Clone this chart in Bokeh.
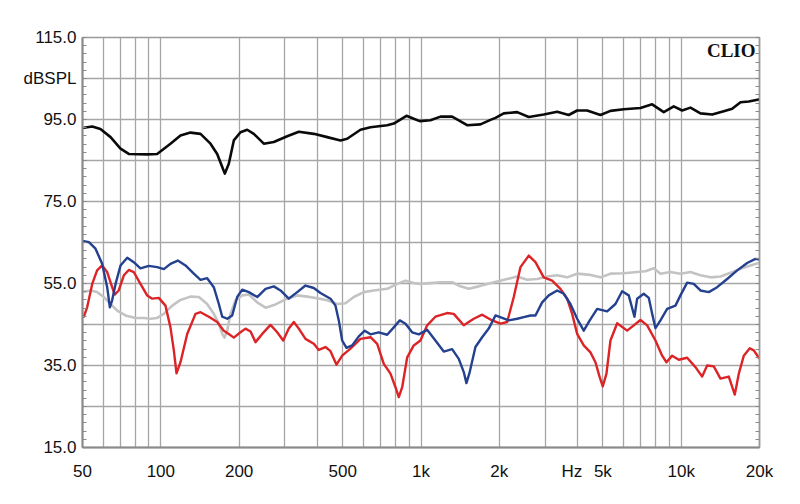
from bokeh.plotting import figure
from bokeh.models import FixedTicker, LinearAxis, Range1d, Label
from bokeh.embed import file_html
from bokeh.resources import INLINE

# ---- data (Hz, dB SPL) ----
black_f = [50.6, 54.5, 58.6, 64.1, 70, 75.3, 88.6, 96.8, 108.9, 119, 130, 142.1, 155.2, 164.7, 172.2,
           176.2, 182.5, 190.8, 202.4, 214.8, 227.7, 248.8, 271.8, 306, 339.1, 387.2, 436, 490.4, 520.3,
           585.3, 639.5, 741.4, 786, 879.5, 937.8, 988.9, 1087, 1188, 1317, 1397, 1504, 1692, 1849, 1933,
           2080, 2342, 2595, 2963, 3337, 3697, 3983, 4351, 4895, 5348, 6016, 6974, 7735, 8571, 9364,
           10087, 10856, 11860, 13155, 14580, 15705, 16905, 18188, 19872]
black_db = [93.0, 93.3, 92.7, 90.7, 87.9, 86.6, 86.5, 86.6, 89.1, 91.1, 91.8, 91.5, 89.1, 86.6, 83.4,
            81.8, 84.2, 89.9, 91.9, 92.5, 91.5, 89.1, 89.5, 90.9, 92.0, 91.5, 90.7, 89.9, 90.3,
            92.5, 93.1, 93.6, 94.0, 95.9, 95.2, 94.6, 94.8, 95.7, 95.7, 94.8, 93.6, 93.8, 94.9, 95.4,
            96.5, 96.8, 95.6, 96.2, 96.9, 96.1, 97.2, 97.2, 96.1, 97.1, 97.5, 97.8, 98.7, 96.8, 98.2,
            97.2, 97.9, 96.5, 96.2, 97.0, 97.6, 99.2, 99.4, 99.9]

blue_f = [50.6, 52.9, 56.1, 59.5, 62.2, 63.7, 65.0, 67.0, 70.0, 74.3, 78.7, 83.5, 89.9, 96.8, 102.7,
          108.9, 116.2, 124.4, 133.9, 142.1, 150.7, 159.8, 167.1, 172.2, 180.0, 188.1, 196.6, 205.5,
          217.9, 234.7, 252.6, 271.8, 288.4, 310.4, 334.4, 359.8, 387.2, 410.8, 448.9, 469.2, 483.1,
          497.8, 517.1, 543.8, 576.6, 608.0, 639.5, 688.2, 741.4, 786.0, 828.9, 871.8, 924.6, 980.2,
          1056, 1136, 1223, 1317, 1397, 1460, 1495, 1539, 1619, 1718, 1821, 1933, 2051, 2174, 2342,
          2483, 2635, 2754, 2922, 3098, 3337, 3537, 3753, 3983, 4222, 4452, 4754, 5194, 5590, 5931,
          6288, 6613, 6773, 7180, 7506, 7735, 7964, 8324, 8833, 9506, 9936, 10543, 11177, 11860,
          12765, 13752, 15024, 16416, 17935, 19299, 19872]
blue_db = [65.3, 65.1, 63.5, 59.8, 54.1, 49.2, 50.9, 54.9, 59.4, 61.3, 60.2, 58.7, 59.3, 59.0, 58.5,
           59.8, 60.6, 59.4, 57.4, 55.9, 56.3, 54.1, 50.0, 46.9, 46.4, 47.2, 51.7, 53.5,
           52.9, 51.7, 53.7, 54.3, 53.3, 51.3, 52.9, 54.5, 53.9, 52.7, 51.3, 49.6, 46.0,
           41.1, 39.3, 39.9, 42.1, 43.5, 42.6, 43.1, 42.5, 44.3, 46.0, 45.2, 43.1, 42.6,
           43.7, 41.1, 38.4, 39.0, 36.6, 33.4, 30.7, 33.4, 39.5, 41.9, 44.0, 47.2, 46.6, 46.0, 46.4,
           46.8, 47.2, 47.2, 50.4, 52.1, 53.3, 52.5, 50.0, 46.4, 43.5, 46.0, 48.8, 48.2, 50.0, 53.1,
           52.1, 46.9, 51.3, 52.5, 51.5, 47.6, 44.1, 46.0, 48.8, 49.6, 52.1, 55.2, 54.9, 53.3,
           52.9, 54.1, 56.1, 58.2, 60.0, 61.0, 60.9]

red_f = [50.6, 52.1, 54.5, 56.9, 59.5, 62.2, 65.0, 66.5, 68.9, 72.1, 75.3, 78.7, 83.5, 88.6, 92.7,
         98.2, 104.2, 108.9, 112.2, 114.9, 119.0, 126.3, 135.9, 142.1, 152.9, 164.7, 174.6, 182.5,
         190.8, 202.4, 211.6, 221.2, 231.2, 245.3, 264.0, 280.1, 295.4, 310.4, 324.5, 339.1, 359.8,
         387.2, 404.7, 429.4, 448.9, 473.4, 497.8, 535.7, 585.3, 639.5, 678.6, 719.4, 763.3, 797.9,
         821.6, 846.7, 885.0, 937.8, 995, 1056, 1136, 1260, 1336, 1460, 1595, 1718, 1849, 2020, 2144,
         2273, 2412, 2595, 2754, 2963, 3192, 3435, 3645, 3810, 3983, 4222, 4480, 4683, 4864, 4996,
         5162, 5348, 5675, 6200, 6573, 6974, 7400, 7964, 8450, 8778, 9232, 9788, 10543, 11347,
         12040, 12585, 13344, 14160, 15238, 16071, 16651, 17406, 18350, 19011, 19872]
red_db = [46.9, 49.2, 54.9, 58.2, 59.4, 57.8, 54.1, 52.3, 53.3, 57.0, 58.3, 57.8, 54.9, 52.1, 51.3,
          51.5, 49.6, 44.3, 38.7, 33.1, 35.8, 42.7, 47.6, 48.0, 46.9, 45.6, 43.5, 42.7,
          41.8, 43.1, 44.0, 43.3, 40.7, 42.7, 44.9, 43.1, 41.1, 44.0, 45.6, 44.0, 41.5,
          40.3, 38.8, 39.5, 38.5, 35.2, 37.4, 39.1, 41.5, 41.9, 40.3, 35.4, 33.0, 29.7,
          27.3, 29.7, 37.0, 39.9, 41.1, 44.8, 46.9, 47.8, 47.6, 44.8, 46.4, 47.4, 46.2, 45.2, 45.6,
          51.7, 59.0, 61.8, 60.2, 56.5, 55.7, 53.7, 51.3, 47.6, 42.7, 39.9, 38.2, 35.8, 32.1, 29.9,
          33.0, 41.1, 45.3, 43.5, 44.8, 46.1, 44.8, 41.1, 37.4, 35.8, 37.4, 36.4, 36.9, 34.6,
          32.3, 35.0, 34.8, 31.8, 32.3, 27.9, 33.0, 37.4, 39.2, 38.7, 36.9]

gray_f = [50.6, 53.7, 56.9, 60.4, 64.1, 68.0, 73.2, 79.9, 86.0, 91.3, 96.8, 102.7, 110.6, 119.0, 130.0,
          140.0, 150.7, 159.8, 167.1, 172.2, 175.7, 180.0, 185.3, 193.7, 205.5, 217.9, 234.7, 252.6,
          275.9, 306.0, 334.4, 365.3, 399.0, 436.0, 476.3, 512.6, 551.6, 602.7, 658.4, 741.4, 810.0,
          871.8, 937.8, 995, 1087, 1188, 1317, 1418, 1526, 1667, 1796, 1962, 2144, 2342, 2559, 2796,
          3054, 3337, 3645, 3983, 4480, 4895, 5348, 6016, 6773, 7289, 7845, 8324, 9095, 9936, 10856,
          11860, 12960, 14160, 15470, 16905, 18465, 19872]
gray_db = [53.0, 53.3, 52.9, 51.7, 50.0, 48.4, 47.2, 46.6, 46.6, 46.4, 46.6, 47.6, 49.6, 51.0, 51.8,
           51.7, 50.0, 47.6, 45.2, 42.7, 41.8, 43.5, 47.6, 50.9, 52.1, 52.3, 50.4, 49.1,
           49.9, 51.3, 52.1, 51.8, 51.4, 50.9, 50.0, 50.2, 51.7, 52.9, 53.3, 53.7, 54.9,
           55.7, 55.1, 54.9, 55.1, 55.3, 55.3, 54.3, 53.7, 54.3, 54.9, 55.5, 56.1, 56.7, 55.9, 56.1,
           56.7, 57.0, 56.5, 57.4, 57.1, 56.5, 57.4, 57.5, 57.8, 58.0, 58.7, 57.4, 57.8, 57.4, 57.8,
           57.0, 56.5, 56.7, 57.6, 58.6, 59.4, 60.0]

x_tick_vals = [50, 100, 200, 500, 1000, 2000, 3800, 5000, 10000, 20000]
x_tick_text = ["50", "100", "200", "500", "1k", "2k", "Hz", "5k", "10k", "20k"]
x_grid_vals = [60, 70, 80, 90, 100, 200, 300, 400, 500, 600, 700, 800, 900,
               1000, 2000, 3000, 4000, 5000, 6000, 7000, 8000, 9000, 10000]
y_tick_vals = [15, 35, 55, 75, 95, 105, 115]
y_tick_text = ["15.0", "35.0", "55.0", "75.0", "95.0", "dBSPL", "115.0"]
y_grid_vals = [15, 25, 35, 45, 55, 65, 75, 85, 95, 105, 115]
y_minor_vals = list(range(15, 116, 2))

FONT = "Liberation Sans"
GRID = "#a6a6a6"
AXIS = "#8a8a8a"

p = figure(width=800, height=504, x_axis_type="log",
           x_range=Range1d(50, 20000), y_range=Range1d(15, 115),
           output_backend="svg", toolbar_location=None,
           min_border_left=82, min_border_right=41, min_border_top=37, min_border_bottom=57,
           background_fill_color="white", border_fill_color="white")

p.outline_line_color = "#9a9a9a"
p.outline_line_width = 1.5

# grids
p.xgrid.ticker = FixedTicker(ticks=x_grid_vals)
p.ygrid.ticker = FixedTicker(ticks=y_grid_vals)
for g in (p.xgrid[0], p.ygrid[0]):
    g.grid_line_color = GRID
    g.grid_line_width = 1.3

# x axis
xa = p.xaxis[0]
xa.ticker = FixedTicker(ticks=x_tick_vals)
xa.major_label_overrides = {v: t for v, t in zip(x_tick_vals, x_tick_text)}
xa.major_tick_line_color = None
xa.minor_tick_line_color = None
xa.axis_line_color = AXIS
xa.axis_line_width = 2
xa.major_label_text_font = FONT
xa.major_label_text_font_size = "17px"
xa.major_label_text_color = "#111111"
xa.major_label_standoff = 8

# y axis
ya = p.yaxis[0]
ya.ticker = FixedTicker(ticks=y_tick_vals, minor_ticks=y_minor_vals)
ya.major_label_overrides = {v: t for v, t in zip(y_tick_vals, y_tick_text)}
ya.major_tick_in = 0
ya.major_tick_out = 0
ya.minor_tick_in = 4
ya.minor_tick_out = 0
ya.minor_tick_line_color = AXIS
ya.axis_line_color = AXIS
ya.axis_line_width = 2
ya.major_label_text_font = FONT
ya.major_label_text_font_size = "17px"
ya.major_label_text_color = "#111111"
ya.major_label_standoff = 6

# right axis with inward minor ticks only
ra = LinearAxis(ticker=FixedTicker(ticks=y_tick_vals, minor_ticks=y_minor_vals))
ra.major_tick_in = 0
ra.major_tick_out = 0
ra.minor_tick_in = 4
ra.minor_tick_out = 0
ra.minor_tick_line_color = AXIS
ra.axis_line_color = "#9a9a9a"
ra.axis_line_width = 1.5
ra.major_label_text_color = None
ra.major_label_text_font_size = "1px"
p.add_layout(ra, "right")

# curves
kw = dict(line_join="round", line_cap="round")
p.line(gray_f, gray_db, line_color="#c3c3c3", line_width=2.6, **kw)
p.line(red_f, red_db, line_color="#dc2326", line_width=2.4, **kw)
p.line(blue_f, blue_db, line_color="#24418f", line_width=2.4, **kw)
p.line(black_f, black_db, line_color="#0a0a0a", line_width=2.6, **kw)

p.add_layout(Label(x=20000, y=115, x_offset=-4, y_offset=-2, text="CLIO",
                   text_align="right", text_baseline="top",
                   text_font="Liberation Serif", text_font_style="bold",
                   text_font_size="19px", text_color="#111111"))

open("out.html", "w").write(file_html(p, INLINE))
